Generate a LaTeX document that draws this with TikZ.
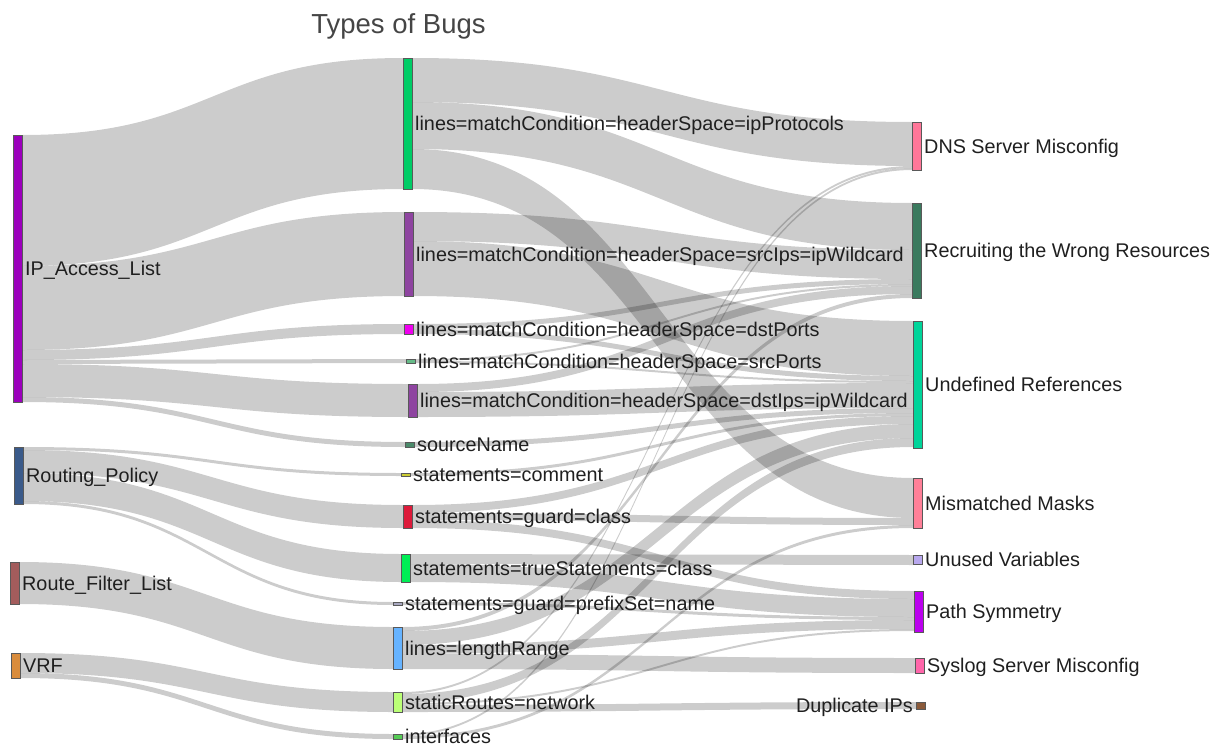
\documentclass[tikz,border=0pt]{standalone}
\usepackage{fontspec}
\setmainfont{Liberation Sans}
\usetikzlibrary{positioning,calc,backgrounds}

\definecolor{aclc}{HTML}{9B00BC}
\definecolor{rpc}{HTML}{3A5A8A}
\definecolor{rflc}{HTML}{A35C5C}
\definecolor{vrfc}{HTML}{D98C3C}
\definecolor{ippc}{HTML}{00CC66}
\definecolor{sipc}{HTML}{8E44A0}
\definecolor{dpoc}{HTML}{EE00EE}
\definecolor{spoc}{HTML}{66BB88}
\definecolor{snc}{HTML}{4A8A6A}
\definecolor{comc}{HTML}{CCCC33}
\definecolor{gcc}{HTML}{DD1A3A}
\definecolor{tsc}{HTML}{00EE55}
\definecolor{pfxc}{HTML}{A8A8C0}
\definecolor{lrc}{HTML}{66B3FF}
\definecolor{src}{HTML}{BBFF77}
\definecolor{ifcc}{HTML}{55CC55}
\definecolor{dnsc}{HTML}{FF7799}
\definecolor{recc}{HTML}{3A7A5E}
\definecolor{undc}{HTML}{00D49A}
\definecolor{mmc}{HTML}{FF8098}
\definecolor{uvc}{HTML}{B8A8EE}
\definecolor{psc}{HTML}{BB00EE}
\definecolor{slc}{HTML}{FF66AA}
\definecolor{dupc}{HTML}{8B5A3A}

\tikzset{
  bar/.style={draw=black!65, line width=.5pt, inner sep=0pt, outer sep=0pt,
    minimum width=9.5pt, minimum height=#1pt, anchor=north west},
  lbl/.style={font=\fontsize{19.8}{22}\selectfont, text=black!88, inner sep=0pt,
    text height=17.5pt, text depth=3.5pt},
  link/.style={fill=black, fill opacity=.2}
}

% source, offset at source, target, offset at target, width
\newcommand{\flow}[5]{%
  \fill[link] let \p1=($(#1.north east)+(0,#2)$), \p2=($(#3.north west)+(0,#4)$),
    \p3=($(#1.north east)+(0,#2+#5)$), \p4=($(#3.north west)+(0,#4+#5)$),
    \p5=($(\p1)!.5!(\p2)$) in
    (\p1) .. controls (\x5,\y1) and (\x5,\y2) .. (\p2) -- (\p4)
    .. controls (\x5,\y4) and (\x5,\y3) .. (\p3) -- cycle;}

\begin{document}
\begin{tikzpicture}[x=1pt,y=-1pt]
    \useasboundingbox (0,0) rectangle (1212,744);
    \node[font=\fontsize{27.5}{30}\selectfont, text=black!73, anchor=base] (title) at (398.5,33) {Types of Bugs};

    \node[bar=267, fill=aclc] (acl) at (13,135) {};
    \node[bar=57, fill=rpc] (rp) at (14,447) {};
    \node[bar=42, fill=rflc] (rfl) at (10,562) {};
    \node[bar=25, fill=vrfc] (vrf) at (11,653) {};

    \node[bar=131, fill=ippc] (ipp) at (403,58) {};
    \node[bar=84, fill=sipc] (sip) at (404,212) {};
    \node[bar=10, fill=dpoc] (dpo) at (404,324) {};
    \node[bar=4, fill=spoc] (spo) at (406,359) {};
    \node[bar=33, fill=sipc] (dip) at (408,384) {};
    \node[bar=5, fill=snc] (sn) at (405,442) {};
    \node[bar=3, fill=comc] (com) at (401,473) {};
    \node[bar=23, fill=gcc] (gc) at (403,505) {};
    \node[bar=28, fill=tsc] (ts) at (401,554) {};
    \node[bar=3, fill=pfxc] (pfx) at (393,602) {};
    \node[bar=42, fill=lrc] (lr) at (393,627) {};
    \node[bar=20, fill=src] (sr) at (393,692) {};
    \node[bar=5, fill=ifcc] (ifc) at (393,734) {};

    \node[bar=48, fill=dnsc] (dns) at (912,122) {};
    \node[bar=95, fill=recc] (rec) at (912,203) {};
    \node[bar=127, fill=undc] (und) at (913,321) {};
    \node[bar=50, fill=mmc] (mm) at (913,478) {};
    \node[bar=9, fill=uvc] (uv) at (913,555) {};
    \node[bar=41, fill=psc] (ps) at (914,591) {};
    \node[bar=15, fill=slc] (sl) at (915,658) {};
    \node[bar=7, fill=dupc] (dup) at (916,702) {};

    \begin{pgfonlayer}{background}
    \flow{acl}{0}{ipp}{0}{131}
    \flow{acl}{131}{sip}{0}{84}
    \flow{acl}{215}{dpo}{0}{10}
    \flow{acl}{225}{spo}{0}{4}
    \flow{acl}{229}{dip}{0}{33}
    \flow{acl}{262}{sn}{0}{5}
    \flow{rp}{0}{com}{0}{3}
    \flow{rp}{3}{gc}{0}{23}
    \flow{rp}{26}{ts}{0}{28}
    \flow{rp}{54}{pfx}{0}{3}
    \flow{rfl}{0}{lr}{0}{42}
    \flow{vrf}{0}{sr}{0}{20}
    \flow{vrf}{20}{ifc}{0}{5}

    \flow{ipp}{0}{dns}{0}{44}
    \flow{ipp}{44}{rec}{0}{47}
    \flow{ipp}{91}{mm}{0}{40}
    \flow{sip}{0}{rec}{47}{29}
    \flow{sip}{29}{und}{0}{55}
    \flow{dpo}{0}{rec}{76}{5}
    \flow{dpo}{5}{und}{55}{5}
    \flow{spo}{0}{rec}{81}{2}
    \flow{spo}{2}{und}{60}{2}
    \flow{dip}{0}{rec}{83}{8}
    \flow{dip}{8}{und}{62}{25}
    \flow{sn}{0}{und}{87}{5}
    \flow{com}{0}{und}{92}{3}
    \flow{gc}{0}{und}{95}{8}
    \flow{gc}{8}{mm}{40}{7}
    \flow{gc}{15}{ps}{0}{8}
    \flow{ts}{0}{uv}{0}{10}
    \flow{ts}{10}{ps}{8}{18}
    \flow{pfx}{0}{ps}{26}{3}
    \flow{lr}{0}{rec}{91}{4}
    \flow{lr}{4}{und}{103}{14}
    \flow{lr}{18}{ps}{29}{9}
    \flow{lr}{27}{sl}{0}{15}
    \flow{sr}{0}{dns}{44}{2}
    \flow{sr}{2}{und}{117}{9}
    \flow{sr}{11}{ps}{38}{2}
    \flow{sr}{13}{dup}{0}{7}
    \flow{ifc}{0}{dns}{46}{2}
    \flow{ifc}{2}{mm}{47}{3}
    \end{pgfonlayer}

    \node[lbl, right=2.5pt of acl] (acllbl) {IP\_Access\_List};
    \node[lbl, right=2.5pt of rp] (rplbl) {Routing\_Policy};
    \node[lbl, right=2.5pt of rfl] (rfllbl) {Route\_Filter\_List};
    \node[lbl, right=2.5pt of vrf] (vrflbl) {VRF};

    \node[lbl, right=2.5pt of ipp] (ipplbl) {lines=matchCondition=headerSpace=ipProtocols};
    \node[lbl, right=2.5pt of sip] (siplbl) {lines=matchCondition=headerSpace=srcIps=ipWildcard};
    \node[lbl, right=2.5pt of dpo] (dpolbl) {lines=matchCondition=headerSpace=dstPorts};
    \node[lbl, right=2.5pt of spo] (spolbl) {lines=matchCondition=headerSpace=srcPorts};
    \node[lbl, right=2.5pt of dip] (diplbl) {lines=matchCondition=headerSpace=dstIps=ipWildcard};
    \node[lbl, right=2.5pt of sn] (snlbl) {sourceName};
    \node[lbl, right=2.5pt of com] (comlbl) {statements=comment};
    \node[lbl, right=2.5pt of gc] (gclbl) {statements=guard=class};
    \node[lbl, right=2.5pt of ts] (tslbl) {statements=trueStatements=class};
    \node[lbl, right=2.5pt of pfx] (pfxlbl) {statements=guard=prefixSet=name};
    \node[lbl, right=2.5pt of lr] (lrlbl) {lines=lengthRange};
    \node[lbl, right=2.5pt of sr] (srlbl) {staticRoutes=network};
    \node[lbl, right=2.5pt of ifc, text depth=0pt, yshift=1.75pt] (ifclbl) {interfaces};

    \node[lbl, right=2.5pt of dns] (dnslbl) {DNS Server Misconfig};
    \node[lbl, right=2.5pt of rec] (reclbl) {Recruiting the Wrong Resources};
    \node[lbl, right=2.5pt of und] (undlbl) {Undefined References};
    \node[lbl, right=2.5pt of mm] (mmlbl) {Mismatched Masks};
    \node[lbl, right=2.5pt of uv] (uvlbl) {Unused Variables};
    \node[lbl, right=2.5pt of ps] (pslbl) {Path Symmetry};
    \node[lbl, right=2.5pt of sl] (sllbl) {Syslog Server Misconfig};
    \node[lbl, left=3pt of dup] (duplbl) {Duplicate IPs};
\end{tikzpicture}
\end{document}
